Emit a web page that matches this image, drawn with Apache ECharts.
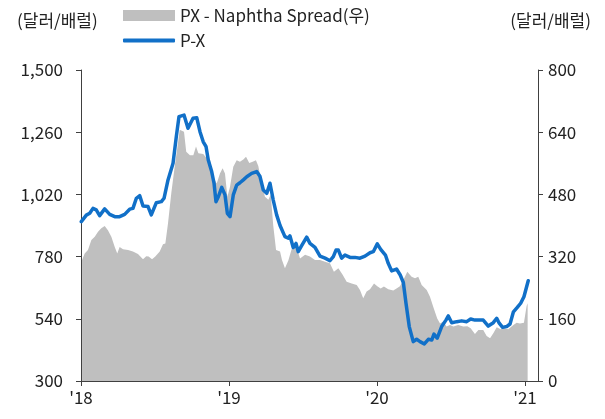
<!DOCTYPE html>
<html>
<head>
<meta charset="utf-8">
<script src="https://cdn.jsdelivr.net/npm/echarts@6/dist/echarts.min.js"></script>
<style>
  body { margin: 0; background: #fff; }
  #chart { width: 605px; height: 419px; }
</style>
</head>
<body>
<div id="chart"></div>
<script>
// P-X (left axis, $/bbl) - time as decimal year
var pxTime = [2018.002, 2018.036, 2018.059, 2018.081, 2018.103, 2018.126, 2018.160, 2018.194, 2018.228, 2018.261,
  2018.295, 2018.329, 2018.351, 2018.374, 2018.397, 2018.419, 2018.453, 2018.475, 2018.509, 2018.543,
  2018.561, 2018.588, 2018.622, 2018.644, 2018.662, 2018.696, 2018.723, 2018.757, 2018.782, 2018.804,
  2018.826, 2018.845, 2018.860, 2018.883, 2018.899, 2018.912, 2018.928, 2018.951, 2018.973, 2018.989,
  2019.007, 2019.029, 2019.052, 2019.074, 2019.097, 2019.120, 2019.153, 2019.187, 2019.209, 2019.232,
  2019.255, 2019.277, 2019.299, 2019.322, 2019.345, 2019.378, 2019.401, 2019.412, 2019.434, 2019.453,
  2019.468, 2019.491, 2019.525, 2019.547, 2019.581, 2019.615, 2019.649, 2019.682, 2019.705, 2019.723,
  2019.739, 2019.761, 2019.784, 2019.818, 2019.851, 2019.885, 2019.919, 2019.953, 2019.975, 2020.002,
  2020.025, 2020.057, 2020.076, 2020.099, 2020.132, 2020.157, 2020.178, 2020.196, 2020.218, 2020.245,
  2020.268, 2020.291, 2020.320, 2020.347, 2020.370, 2020.385, 2020.407, 2020.437, 2020.466, 2020.482,
  2020.505, 2020.539, 2020.572, 2020.606, 2020.633, 2020.662, 2020.696, 2020.718, 2020.752, 2020.786,
  2020.809, 2020.826, 2020.849, 2020.876, 2020.899, 2020.922, 2020.948, 2020.971, 2020.993, 2021.022];
var pxValue = [915, 940, 947, 966, 960, 938, 964, 943, 934, 934,
  943, 963, 966, 1005, 1015, 975, 973, 941, 988, 992,
  1005, 1076, 1140, 1243, 1320, 1326, 1275, 1314, 1316, 1262,
  1223, 1204, 1153, 1108, 1063, 992, 1011, 1047, 1018, 947,
  934, 1018, 1056, 1065, 1076, 1088, 1101, 1108, 1090, 1037,
  1024, 1063, 998, 941, 900, 857, 851, 860, 815, 831,
  799, 822, 855, 831, 816, 782, 774, 764, 780, 805,
  805, 774, 786, 777, 777, 774, 782, 795, 799, 829,
  808, 786, 754, 725, 732, 709, 680, 600, 510, 452,
  461, 452, 443, 461, 458, 481, 465, 510, 535, 551,
  525, 529, 532, 529, 539, 535, 535, 535, 512, 525,
  542, 523, 507, 510, 520, 567, 584, 600, 625, 687];

// PX - Naphtha spread (right axis, $/bbl)
var spreadTime = [2018.007, 2018.025, 2018.047, 2018.070, 2018.093, 2018.115, 2018.137, 2018.160, 2018.182, 2018.205,
  2018.228, 2018.245, 2018.261, 2018.284, 2018.318, 2018.351, 2018.385, 2018.419, 2018.441, 2018.457,
  2018.480, 2018.502, 2018.532, 2018.554, 2018.570, 2018.588, 2018.610, 2018.633, 2018.655, 2018.667,
  2018.696, 2018.711, 2018.736, 2018.759, 2018.777, 2018.793, 2018.826, 2018.849, 2018.872, 2018.894,
  2018.917, 2018.939, 2018.957, 2018.973, 2018.989, 2019.007, 2019.029, 2019.052, 2019.074, 2019.097,
  2019.115, 2019.137, 2019.160, 2019.182, 2019.198, 2019.221, 2019.243, 2019.266, 2019.282, 2019.299,
  2019.318, 2019.345, 2019.358, 2019.378, 2019.401, 2019.424, 2019.446, 2019.468, 2019.480, 2019.514,
  2019.547, 2019.581, 2019.615, 2019.649, 2019.682, 2019.709, 2019.739, 2019.768, 2019.795, 2019.829,
  2019.863, 2019.885, 2019.907, 2019.930, 2019.953, 2019.980, 2020.002, 2020.025, 2020.047, 2020.076,
  2020.110, 2020.132, 2020.155, 2020.178, 2020.205, 2020.234, 2020.257, 2020.279, 2020.302, 2020.336,
  2020.358, 2020.380, 2020.407, 2020.426, 2020.448, 2020.470, 2020.493, 2020.516, 2020.549, 2020.583,
  2020.611, 2020.633, 2020.662, 2020.685, 2020.718, 2020.741, 2020.764, 2020.786, 2020.809, 2020.836,
  2020.858, 2020.887, 2020.922, 2020.944, 2020.966, 2020.993, 2021.011, 2021.018];
var spreadValue = [311, 328, 337, 363, 371, 384, 393, 399, 388, 371,
  345, 328, 345, 339, 337, 333, 327, 313, 321, 320,
  313, 320, 333, 352, 354, 406, 483, 551, 611, 646,
  641, 590, 581, 581, 603, 586, 584, 573, 568, 525,
  508, 534, 547, 534, 474, 500, 551, 568, 564, 570,
  577, 561, 564, 568, 553, 508, 474, 466, 480, 400,
  337, 333, 311, 290, 310, 340, 352, 330, 315, 325,
  320, 311, 311, 307, 303, 281, 290, 273, 255, 251,
  247, 234, 213, 230, 236, 251, 244, 238, 243, 236,
  233, 238, 244, 260, 281, 268, 264, 268, 247, 234,
  217, 191, 161, 148, 153, 140, 144, 140, 144, 140,
  141, 136, 121, 131, 131, 116, 110, 123, 138, 133,
  136, 133, 144, 150, 148, 150, 193, 200];

var yearTicks = [2018, 2019, 2020, 2021];

var pxData = pxTime.map(function (t, i) { return [t, pxValue[i]]; });
var spreadData = spreadTime.map(function (t, i) { return [t, spreadValue[i]]; });

var font = 'Noto Sans CJK KR';
var fs = 17;
var axisColor = '#404040';
var textColor = '#222';

var myChart = echarts.init(document.getElementById('chart'), null, { renderer: 'canvas' });
myChart.setOption({
  animation: false,
  textStyle: { fontFamily: font },
  title: [
    { text: '(달러/배럴)', left: 12, top: 7, textStyle: { fontSize: fs, fontWeight: 'normal', color: textColor, fontFamily: font } },
    { text: '(달러/배럴)', right: 9, top: 7, textStyle: { fontSize: fs, fontWeight: 'normal', color: textColor, fontFamily: font } }
  ],
  legend: [
    {
      data: ['PX - Naphtha Spread(우)'],
      left: 123, top: 7, padding: 0,
      icon: 'rect', itemWidth: 52, itemHeight: 11,
      textStyle: { fontSize: fs, color: textColor, fontFamily: font }
    },
    {
      data: ['P-X'],
      left: 123, top: 32, padding: 0,
      icon: 'roundRect', itemWidth: 52, itemHeight: 4,
      textStyle: { fontSize: fs, color: textColor, fontFamily: font }
    }
  ],
  grid: { left: 81, right: 67, top: 70, bottom: 38, containLabel: false },
  xAxis: {
    type: 'value',
    min: 2018,
    max: 2021.088,
    interval: 1,
    axisLine: { show: true, lineStyle: { color: axisColor } },
    axisTick: { show: true, customValues: yearTicks, length: 5, lineStyle: { color: axisColor } },
    axisLabel: {
      customValues: yearTicks,
      margin: 8,
      fontSize: fs,
      color: textColor,
      formatter: function (v) { return "'" + String(Math.round(v) - 2000); }
    },
    splitLine: { show: false }
  },
  yAxis: [
    {
      type: 'value',
      min: 300, max: 1500, interval: 240,
      position: 'left',
      axisLine: { show: true, lineStyle: { color: axisColor } },
      axisTick: { show: true, length: 5, lineStyle: { color: axisColor } },
      axisLabel: {
        fontSize: fs, color: textColor, margin: 18,
        formatter: function (v) { return v.toLocaleString('en-US'); }
      },
      splitLine: { show: false }
    },
    {
      type: 'value',
      min: 0, max: 800, interval: 160,
      position: 'right',
      axisLine: { show: true, lineStyle: { color: axisColor } },
      axisTick: { show: true, length: 5, lineStyle: { color: axisColor } },
      axisLabel: { fontSize: fs, color: textColor, margin: 10 },
      splitLine: { show: false }
    }
  ],
  series: [
    {
      name: 'PX - Naphtha Spread(우)',
      type: 'line',
      yAxisIndex: 1,
      data: spreadData,
      symbol: 'none',
      color: '#bfbfbf',
      lineStyle: { width: 0 },
      areaStyle: { color: '#bfbfbf', opacity: 1 },
      z: 1
    },
    {
      name: 'P-X',
      type: 'line',
      yAxisIndex: 0,
      data: pxData,
      symbol: 'none',
      color: '#1170c8',
      lineStyle: { width: 3.5, color: '#1170c8', join: 'round', cap: 'round' },
      z: 3
    }
  ]
});
</script>
</body>
</html>
